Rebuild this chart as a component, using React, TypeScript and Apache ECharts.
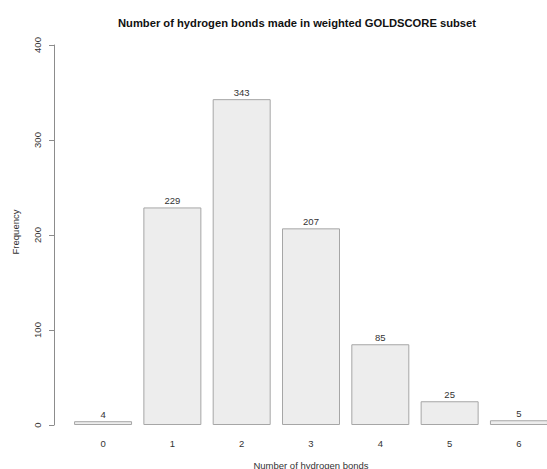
import React, { useEffect, useRef } from "react";
import * as echarts from "echarts";

const categories = ["0", "1", "2", "3", "4", "5", "6"];
const frequencies = [4, 229, 343, 207, 85, 25, 5];
const yTicks = [0, 100, 200, 300, 400];
const titleText = "Number of hydrogen bonds made in weighted GOLDSCORE subset";
const xTitle = "Number of hydrogen bonds";
const yTitle = "Frequency";

const FONT = "'Liberation Sans', Arial, Helvetica, sans-serif";

export default function App() {
  const ref = useRef<HTMLDivElement>(null);
  useEffect(() => {
    if (!ref.current) return;
    const chart = echarts.init(ref.current, null, { renderer: "svg" });
    chart.setOption({
      animation: false,
      backgroundColor: "#ffffff",
      textStyle: { fontFamily: FONT },
      grid: { left: 68.4, right: 6.4, top: 45, bottom: 44, containLabel: false },
      xAxis: {
        type: "category",
        data: categories,
        boundaryGap: true,
        axisLine: { show: false },
        axisTick: { show: false },
        axisLabel: { margin: 13, fontSize: 9.5, color: "#333333", fontFamily: FONT },
        splitLine: { show: false },
      },
      yAxis: {
        type: "value",
        min: yTicks[0],
        max: yTicks[yTicks.length - 1],
        interval: 100,
        offset: 14.4,
        axisLine: { show: true, lineStyle: { color: "#8c8c8c", width: 1 } },
        axisTick: { show: true, length: 5, lineStyle: { color: "#8c8c8c" } },
        axisLabel: { rotate: 90, margin: 12, fontSize: 9.5, color: "#333333", fontFamily: FONT },
        splitLine: { show: false },
      },
      series: [
        {
          type: "bar",
          data: frequencies,
          barWidth: 58,
          itemStyle: { color: "#ededed", borderColor: "#a6a6a6", borderWidth: 1 },
          label: {
            show: true,
            position: "top",
            distance: 2,
            fontSize: 9.5,
            color: "#333333",
            fontFamily: FONT,
          },
        },
      ],
      graphic: [
        {
          type: "text",
          x: 297,
          y: 23,
          style: {
            text: titleText,
            fontSize: 11.2,
            fontWeight: "bold",
            fill: "#111111",
            fontFamily: FONT,
            textAlign: "center",
            textVerticalAlign: "middle",
          },
        },
        {
          type: "text",
          x: 311,
          y: 465,
          style: {
            text: xTitle,
            fontSize: 9.5,
            fill: "#333333",
            fontFamily: FONT,
            textAlign: "center",
            textVerticalAlign: "middle",
          },
        },
        {
          type: "text",
          x: 15,
          y: 232,
          rotation: Math.PI / 2,
          style: {
            text: yTitle,
            fontSize: 9.5,
            fill: "#333333",
            fontFamily: FONT,
            textAlign: "center",
            textVerticalAlign: "middle",
          },
        },
      ],
    });
    return () => chart.dispose();
  }, []);
  return (
    <div
      style={{
        position: "absolute",
        left: 0,
        top: 0,
        width: 547,
        height: 469,
        overflow: "hidden",
        background: "#ffffff",
      }}
    >
      <div ref={ref} style={{ width: 560, height: 469 }} />
    </div>
  );
}
